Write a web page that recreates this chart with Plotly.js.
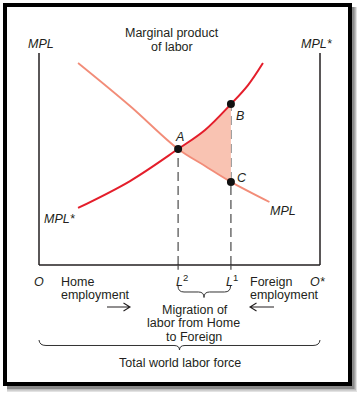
<!DOCTYPE html>
<html>
<head>
<meta charset="utf-8">
<script src="https://cdn.plot.ly/plotly-3.0.1.min.js"></script>
<style>html,body{margin:0;padding:0;background:#fff;}#chart{width:357px;height:395px;}</style>
</head>
<body>
<div id="chart"></div>
<script>
// ---- data (labor units 0..100 from O to O*, MPL units 0..100) ----
const mplX = [13.9, 32.4, 49.5, 59.1, 68.3, 82.0];
const mplY = [95.3, 75.0, 54.7, 46.7, 39.2, 29.7];
const mplStarX = [13.9, 32.4, 49.5, 59.1, 68.3, 74.4, 79.7];
const mplStarY = [26.9, 39.6, 54.7, 63.7, 75.9, 84.9, 95.3];
const pointNames = ['A', 'B', 'C'];
const pointX = [49.5, 68.3, 68.3];
const pointY = [54.7, 75.9, 39.2];
const laborTotal = 100;
const mplTop = 100;

// ---- layout helpers (page pixels -> paper) ----
const W = 357, H = 395;
const PX = x => x / W;
const PY = y => 1 - y / H;
function pathPx(cmds) {
  return cmds.map(c => {
    if (typeof c === 'string') return c;
    return PX(c[0]).toFixed(5) + ',' + PY(c[1]).toFixed(5);
  }).join(' ');
}

const FONT = 'Liberation Sans, Arial, Helvetica, sans-serif';
const TXT = '#231f20';
const FS = 12.5;

const traces = [
  // fill region between curves, from A to B/C
  {x: mplX.slice(2, 5), y: mplY.slice(2, 5), mode: 'lines', line: {width: 0, shape: 'spline'},
   hoverinfo: 'skip', showlegend: false},
  {x: mplStarX.slice(2, 5), y: mplStarY.slice(2, 5), mode: 'lines', line: {width: 0, shape: 'spline'},
   fill: 'tonexty', fillcolor: '#f9c3b2', hoverinfo: 'skip', showlegend: false},
  {x: mplX, y: mplY, mode: 'lines', line: {color: '#f28c78', width: 1.8, shape: 'spline'}, showlegend: false},
  {x: mplStarX, y: mplStarY, mode: 'lines', line: {color: '#e41e2b', width: 2, shape: 'spline'}, showlegend: false},
  {x: pointX, y: pointY, mode: 'markers', marker: {color: '#111', size: 8}, showlegend: false}
];

const shapes = [
  // shadow
  {type: 'rect', xref: 'paper', yref: 'paper', x0: PX(7), x1: PX(357), y0: PY(392), y1: PY(7), fillcolor: '#e2e2e2', line: {width: 0}, layer: 'below'},
  {type: 'rect', xref: 'paper', yref: 'paper', x0: PX(7), x1: PX(356), y0: PY(390.5), y1: PY(7), fillcolor: '#bdbdbd', line: {width: 0}, layer: 'below'},
  {type: 'rect', xref: 'paper', yref: 'paper', x0: PX(7), x1: PX(354.5), y0: PY(389), y1: PY(7), fillcolor: '#8a8a8a', line: {width: 0}, layer: 'below'},
  // frame
  {type: 'rect', xref: 'paper', yref: 'paper', x0: PX(5), x1: PX(350), y0: PY(384), y1: PY(5), fillcolor: '#ffffff', line: {color: '#000', width: 4}, layer: 'below'},
  // axes
  {type: 'line', xref: 'x', yref: 'y', x0: 0, x1: 0, y0: 0, y1: mplTop, line: {color: '#231f20', width: 1.5}},
  {type: 'line', xref: 'x', yref: 'y', x0: laborTotal, x1: laborTotal, y0: 0, y1: mplTop, line: {color: '#231f20', width: 1.5}},
  {type: 'line', xref: 'x', yref: 'y', x0: 0, x1: laborTotal, y0: 0, y1: 0, line: {color: '#231f20', width: 1.5}},
  // dashed drop lines
  {type: 'line', xref: 'x', yref: 'y', x0: pointX[0], x1: pointX[0], y0: 0, y1: pointY[0], line: {color: '#4a4a4a', width: 1.2, dash: '9px,5px'}, layer: 'below'},
  {type: 'line', xref: 'x', yref: 'y', x0: pointX[1], x1: pointX[1], y0: 0, y1: pointY[1], line: {color: '#4a4a4a', width: 1.2, dash: '9px,5px'}, layer: 'below'},
  // small ticks below axis
  {type: 'line', xref: 'x', yref: 'y', x0: pointX[0], x1: pointX[0], y0: 0, y1: -2.2, line: {color: '#4a4a4a', width: 1.2}},
  {type: 'line', xref: 'x', yref: 'y', x0: pointX[1], x1: pointX[1], y0: 0, y1: -2.2, line: {color: '#4a4a4a', width: 1.2}},
  // small brace L2..L1
  {type: 'path', xref: 'paper', yref: 'paper', line: {color: '#333', width: 1},
   path: pathPx(['M', [178, 286], 'Q', [178, 292], [184, 292], 'L', [198.5, 292], 'Q', [204, 292], [204, 297.5], 'Q', [204, 292], [209.5, 292], 'L', [224.5, 292], 'Q', [230.5, 292], [230.5, 286]])},
  // big brace
  {type: 'path', xref: 'paper', yref: 'paper', line: {color: '#333', width: 1},
   path: pathPx(['M', [39, 340], 'Q', [39.5, 345.5], [46, 345.5], 'L', [174, 345.5], 'Q', [179.5, 345.5], [179.5, 350], 'Q', [179.5, 345.5], [185, 345.5], 'L', [313, 345.5], 'Q', [319.5, 345.5], [320, 340]])},
  // arrows
  {type: 'path', xref: 'paper', yref: 'paper', line: {color: '#231f20', width: 1.1},
   path: pathPx(['M', [107, 307], 'L', [130, 307], 'M', [123.5, 303], 'L', [130, 307], 'L', [123.5, 311]])},
  {type: 'path', xref: 'paper', yref: 'paper', line: {color: '#231f20', width: 1.1},
   path: pathPx(['M', [274, 307], 'L', [250, 307], 'M', [256.5, 303], 'L', [250, 307], 'L', [256.5, 311]])}
];

function lab(text, x, y, opts) {
  return Object.assign({xref: 'paper', yref: 'paper', x: PX(x), y: PY(y), text: text, showarrow: false,
    xanchor: 'center', yanchor: 'middle', font: {family: FONT, size: FS, color: TXT}}, opts || {});
}

const annotations = [
  lab('<i>MPL</i>', 41, 44),
  lab('<i>MPL*</i>', 317, 44),
  lab('Marginal product', 172, 33),
  lab('of labor', 172, 47),
  lab('<i>' + pointNames[0] + '</i>', 179, 137),
  lab('<i>' + pointNames[1] + '</i>', 240, 116),
  lab('<i>' + pointNames[2] + '</i>', 241.5, 178),
  lab('<i>MPL</i>', 283, 211),
  lab('<i>MPL*</i>', 60, 219),
  lab('<i>O</i>', 39, 282),
  lab('<i>O*</i>', 318, 282),
  lab('Home', 59, 282, {xanchor: 'left'}),
  lab('employment', 59, 295, {xanchor: 'left'}),
  lab('Foreign', 248, 282, {xanchor: 'left'}),
  lab('employment', 248, 295, {xanchor: 'left'}),
  lab('<i>L</i>', 179, 282),
  lab('2', 185.5, 277, {font: {family: FONT, size: 9.5, color: TXT}}),
  lab('<i>L</i>', 229, 282),
  lab('1', 235.5, 277, {font: {family: FONT, size: 9.5, color: TXT}}),
  lab('Migration of', 195, 310),
  lab('labor from Home', 194, 323),
  lab('to Foreign', 194, 337),
  lab('Total world labor force', 180, 363)
];

const xr = [-39 / 2.81, (W - 39) / 2.81];
const yr = [(265 - H) / 2.12, 265 / 2.12];

const layout = {
  width: W, height: H,
  margin: {l: 0, r: 0, t: 0, b: 0, pad: 0},
  paper_bgcolor: '#ffffff', plot_bgcolor: 'rgba(0,0,0,0)',
  xaxis: {range: xr, visible: false, fixedrange: true},
  yaxis: {range: yr, visible: false, fixedrange: true},
  showlegend: false,
  shapes: shapes,
  annotations: annotations,
  font: {family: FONT, color: TXT}
};

Plotly.newPlot('chart', traces, layout, {staticPlot: true, displayModeBar: false});
</script>
</body>
</html>
